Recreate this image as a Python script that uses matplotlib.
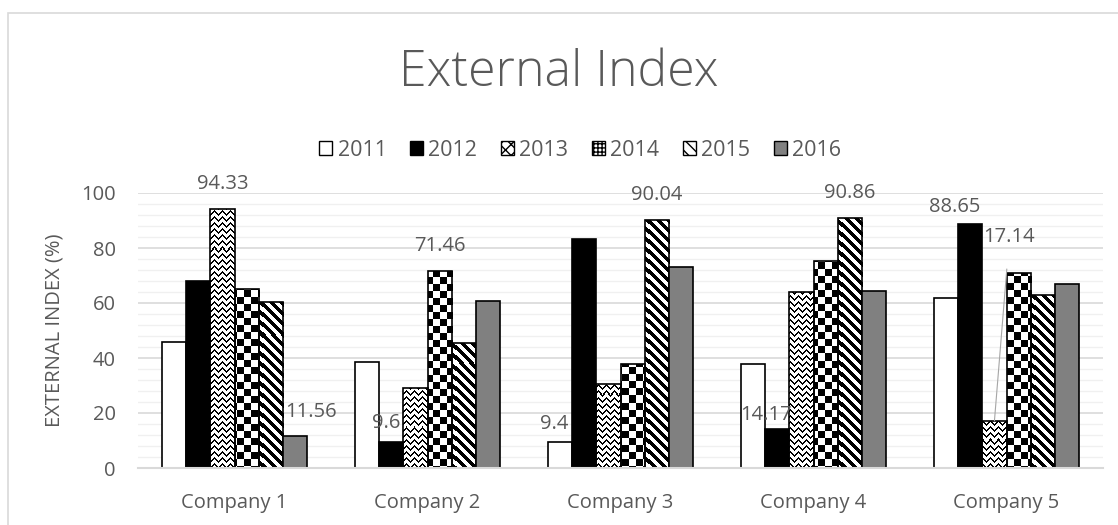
import numpy as np
import matplotlib
matplotlib.use("Agg")
import matplotlib.pyplot as plt
from matplotlib.patches import Patch, Rectangle

plt.rcParams['font.family'] = ['Open Sans', 'DejaVu Sans']
plt.rcParams['hatch.linewidth'] = 1.0

# Datos
companies = ["Company 1", "Company 2", "Company 3", "Company 4", "Company 5"]
years = ["2011", "2012", "2013", "2014", "2015", "2016"]
v2011 = [45.8, 38.4, 9.4, 37.8, 62.0]
v2012 = [68.1, 9.6, 83.2, 14.17, 88.65]
v2013 = [94.33, 29.1, 30.7, 64.0, 17.14]
v2014 = [65.1, 71.46, 37.9, 75.3, 71.0]
v2015 = [60.5, 45.6, 90.04, 90.86, 62.9]
v2016 = [11.56, 60.9, 73.2, 64.2, 66.9]
series = [v2011, v2012, v2013, v2014, v2015, v2016]

# etiquetas visibles: (serie, empresa)
etiquetas = [(2, 0), (5, 0), (1, 1), (3, 1), (0, 2), (4, 2), (1, 3), (4, 3), (1, 4), (2, 4)]
# desplazamiento en pixeles respecto a la punta de la barra
desplaz = {(2, 0): (0, 25), (5, 0): (16, 24), (1, 1): (-5, 19), (3, 1): (0, 25),
           (0, 2): (-6, 18), (4, 2): (0, 25), (1, 3): (-11, 14), (4, 3): (0, 25),
           (1, 4): (-16, 17), (2, 4): (15, 184)}

gris = "#595959"
fs = 14.5

fig = plt.figure(figsize=(11.18, 5.25), dpi=100)
ax = fig.add_axes([138 / 1118, 57 / 525, 965 / 1118, 275 / 525])
ax.set_xlim(-0.5, 4.5)
ax.set_ylim(0, 100)

# marco del grafico
fig.patches.append(Rectangle((8 / 1118, -0.1), 1.2, (525 - 13) / 525 + 0.1,
                             transform=fig.transFigure, fill=False,
                             edgecolor="#d9d9d9", linewidth=1.2))

# texturas en pixeles del eje
bb = ax.get_window_extent()
w, h = int(round(bb.width)), int(round(bb.height))
xx, yy = np.meshgrid(np.arange(w), np.arange(h))
tri = np.abs((xx % 8) - 4)
zigzag = (((yy - tri) % 6) < 1.6).astype(float)
tablero = (((xx // 7) + (yy // 7)) % 2).astype(float)
rayas = (((xx - yy) % 10) < 5).astype(float)
texturas = {2: zigzag, 3: tablero, 4: rayas}
colores = {0: "white", 1: "black", 5: "#808080"}

x = np.arange(len(companies))
ancho = 0.125
barras = []
for k, vals in enumerate(series):
    pos = x + (k - 2.5) * ancho
    if k in texturas:
        bars = ax.bar(pos, vals, ancho, facecolor="none", edgecolor="black",
                      linewidth=1.2, zorder=3)
        for b in bars:
            im = ax.imshow(texturas[k], cmap="binary", vmin=0, vmax=1,
                           extent=(-0.5, 4.5, 0, 100), aspect="auto",
                           interpolation="nearest", zorder=2)
            im.set_clip_path(b)
    else:
        bars = ax.bar(pos, vals, ancho, facecolor=colores[k], edgecolor="black",
                      linewidth=1.2, zorder=3)
    barras.append(bars)
ax.set_xlim(-0.5, 4.5)
ax.set_ylim(0, 100)

# etiquetas de datos
for (k, i) in etiquetas:
    b = barras[k][i]
    cx = b.get_x() + b.get_width() / 2
    top = b.get_height()
    dx, dy = desplaz[(k, i)]
    if (k, i) == (2, 4):
        ax.annotate(f"{series[k][i]:g}", xy=(cx, top), xytext=(dx, dy),
                    textcoords="offset pixels", ha="center", va="center",
                    fontsize=fs, color=gris, zorder=5,
                    arrowprops=dict(arrowstyle="-", color="#a6a6a6", lw=0.8,
                                    shrinkA=14, shrinkB=0))
    else:
        ax.annotate(f"{series[k][i]:g}", xy=(cx, top), xytext=(dx, dy),
                    textcoords="offset pixels", ha="center", va="center",
                    fontsize=fs, color=gris, zorder=5)

# rejilla
ax.set_yticks(np.arange(0, 101, 20))
ax.set_yticks(np.arange(0, 101, 4), minor=True)
ax.grid(axis="y", which="major", color="#d9d9d9", linewidth=1.2, zorder=0)
ax.grid(axis="y", which="minor", color="#f0f0f0", linewidth=1.0, zorder=0)
ax.set_axisbelow(True)
ax.tick_params(axis="both", which="both", length=0, labelsize=fs,
               labelcolor=gris)
ax.tick_params(axis="y", pad=16)
ax.tick_params(axis="x", pad=18)
ax.set_xticks(x)
ax.set_xticklabels(companies)
for s in ["top", "right", "left"]:
    ax.spines[s].set_visible(False)
ax.spines["bottom"].set_color("#d9d9d9")
ax.spines["bottom"].set_linewidth(1.5)
ax.spines["bottom"].set_zorder(4)

ax.set_ylabel("EXTERNAL INDEX (%)", fontsize=14.5, color=gris, labelpad=12)

fig.text(0.5, 0.86, "External Index", ha="center", va="center",
         fontsize=36, color=gris, fontweight="light")

# leyenda
handles = [Patch(facecolor="white", edgecolor="black"),
           Patch(facecolor="black", edgecolor="black"),
           Patch(facecolor="white", edgecolor="black", hatch="xxx"),
           Patch(facecolor="white", edgecolor="black", hatch="++++"),
           Patch(facecolor="white", edgecolor="black", hatch="\\\\\\"),
           Patch(facecolor="#808080", edgecolor="black")]
leg = fig.legend(handles, years, loc="center", bbox_to_anchor=(0.519, 0.714),
                 ncol=6, frameon=False, fontsize=15.5, handlelength=0.6,
                 handleheight=0.6, handletextpad=0.25, columnspacing=1.1)
for t in leg.get_texts():
    t.set_color(gris)

fig.savefig("out.png", dpi=100)
